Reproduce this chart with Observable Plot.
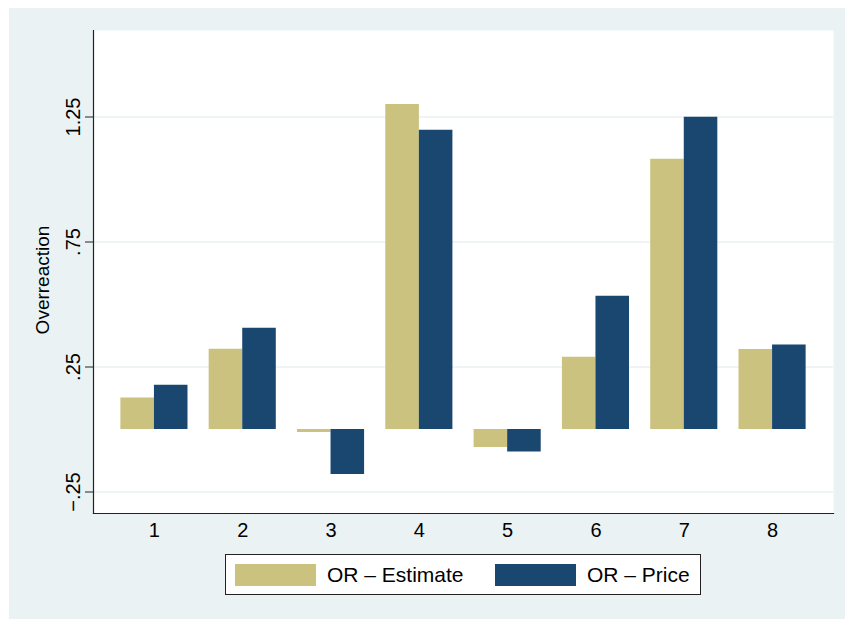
<!DOCTYPE html>
<html>
<head>
<meta charset="utf-8">
<script src="https://cdn.jsdelivr.net/npm/d3@7"></script>
<script src="https://cdn.jsdelivr.net/npm/@observablehq/plot@0.6"></script>
<style>
  html, body { margin: 0; padding: 0; background: #ffffff; }
  body { width: 845px; height: 619px; position: relative; overflow: hidden;
         font-family: "Liberation Sans", Arial, Helvetica, sans-serif; }
  #bg { position: absolute; left: 9px; top: 8px; width: 836px; height: 611px; background: #eaf2f3; }
  #chart { position: absolute; left: 0; top: 0; }
  #legend { position: absolute; left: 225px; top: 554px; width: 474px; height: 39px;
            background: #ffffff; border: 1px solid #222; box-sizing: content-box; }
  .sw { position: absolute; top: 9px; width: 81px; height: 22px; }
  .lt { position: absolute; top: 0; line-height: 40px; font-size: 21px; color: #000; white-space: nowrap; }
</style>
</head>
<body>
<div id="bg"></div>
<div id="chart"></div>
<div id="legend">
  <div class="sw" id="sw1" style="left:9px"></div>
  <div class="lt" id="lt1" style="left:101px"></div>
  <div class="sw" id="sw2" style="left:269px"></div>
  <div class="lt" id="lt2" style="left:361px"></div>
</div>
<script>
// Groups along the horizontal axis
const groups = [1, 2, 3, 4, 5, 6, 7, 8];
// Overreaction by group, two measures
const estimate = [0.126, 0.321, -0.012, 1.30, -0.072, 0.289, 1.081, 0.32];
const price = [0.177, 0.405, -0.18, 1.197, -0.09, 0.533, 1.249, 0.338];
// Series names and colours
const seriesNames = ["OR \u2013 Estimate", "OR \u2013 Price"];
const seriesColors = ["#cac27e", "#1a476f"];
// Vertical axis
const yTicks = [-0.25, 0.25, 0.75, 1.25];
const yTickLabels = ["\u2212.25", ".25", ".75", "1.25"];
const yDomain = [-0.336, 1.596];
const yTitle = "Overreaction";

const rows = groups.map((g, i) => ({group: g, estimate: estimate[i], price: price[i]}));

const W = 845, H = 540;
const mL = 93, mR = 12, mT = 30, mB = 27;
const padInner = 0.24, padOuter = 0.31;
const step = (W - mL - mR) / (groups.length - padInner + 2 * padOuter);
const half = step * (1 - padInner) / 2;

const chart = Plot.plot({
  width: W,
  height: H,
  marginLeft: mL,
  marginRight: mR,
  marginTop: mT,
  marginBottom: mB,
  style: {background: "transparent", fontFamily: "Liberation Sans, Arial, sans-serif", color: "#000"},
  x: {type: "band", domain: groups, paddingInner: padInner, paddingOuter: padOuter, round: false, label: null},
  y: {domain: yDomain, label: null},
  marks: [
    Plot.frame({fill: "#ffffff", stroke: null}),
    Plot.gridY(yTicks, {stroke: "#eaf2f3", strokeOpacity: 1, strokeWidth: 1.6}),
    Plot.barY(rows, {x: "group", y: "estimate", fill: seriesColors[0], insetLeft: 0, insetRight: half}),
    Plot.barY(rows, {x: "group", y: "price", fill: seriesColors[1], insetLeft: half, insetRight: 0}),
    Plot.frame({anchor: "left", stroke: "#222", strokeWidth: 1.2}),
    Plot.frame({anchor: "bottom", stroke: "#222", strokeWidth: 1.2}),
    Plot.axisY({ticks: yTicks, tickFormat: (d) => yTickLabels[yTicks.indexOf(d)], tickSize: 8,
                tickRotate: -90, tickPadding: 6, fontSize: 20, stroke: "#222", label: null}),
    Plot.axisX({tickSize: 0, tickPadding: 9, fontSize: 20, label: null}),
    Plot.text([yTitle], {frameAnchor: "left", text: (d) => d, rotate: -90, dx: -51, dy: 8,
                         fontSize: 19, textAnchor: "middle", lineAnchor: "middle", fill: "#000"})
  ]
});
document.getElementById("chart").appendChild(chart);

document.getElementById("sw1").style.background = seriesColors[0];
document.getElementById("sw2").style.background = seriesColors[1];
document.getElementById("lt1").textContent = seriesNames[0];
document.getElementById("lt2").textContent = seriesNames[1];
</script>
</body>
</html>
